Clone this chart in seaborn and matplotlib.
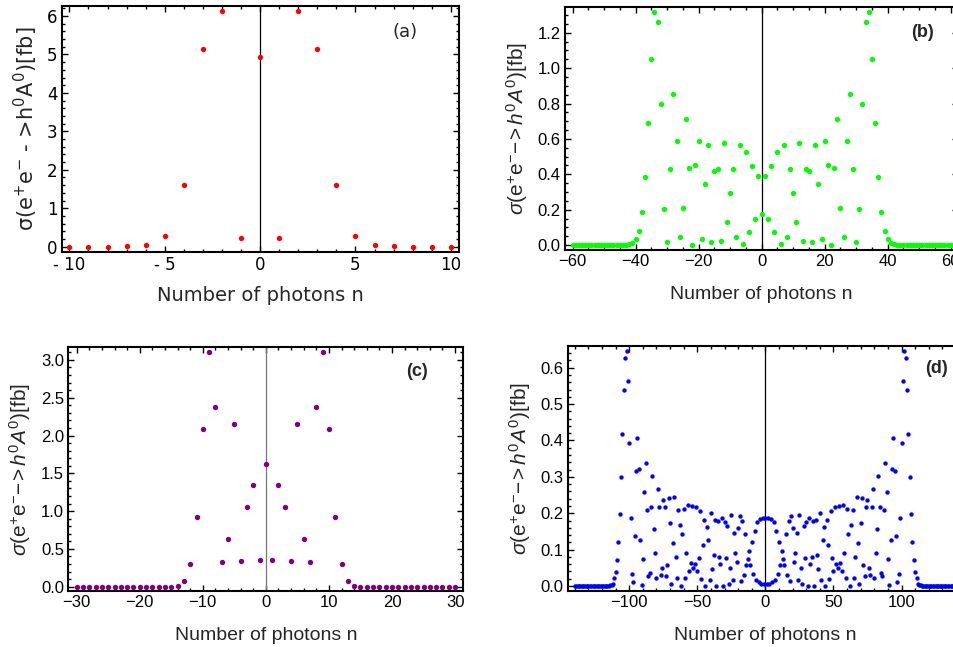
import numpy as np
import pandas as pd
import seaborn as sns
import matplotlib
matplotlib.use("Agg")
import matplotlib.pyplot as plt
from matplotlib.ticker import MultipleLocator, FuncFormatter, FormatStrFormatter

# ---- data (values for n >= 0, the curves are symmetric in n) ----
sigma_a = [4.93, 0.22, 6.13, 5.13, 1.60, 0.28, 0.035, 0.005, 0.0, 0.0, 0.0]

sigma_b = [0.175, 0.390, 0.147, 0.444, 0.075, 0.527, 0.004, 0.563, 0.045, 0.429,
           0.294, 0.128, 0.574, 0.023, 0.429, 0.420, 0.015, 0.567, 0.343, 0.032,
           0.588, 0.450, 0.000, 0.437, 0.714, 0.207, 0.047, 0.586, 0.851, 0.429,
           0.017, 0.201, 0.795, 1.260, 1.316, 1.053, 0.687, 0.382, 0.185, 0.081,
           0.032, 0.013, 0.006, 0.003, 0.001, 0.0, 0.0, 0.0, 0.0, 0.0,
           0.0, 0.0, 0.0, 0.0, 0.0, 0.0, 0.0, 0.0, 0.0, 0.0, 0.0]

sigma_c = [1.62, 0.35, 1.35, 1.05, 0.345, 2.15, 0.635, 0.32, 2.375, 3.10,
           2.08, 0.917, 0.296, 0.079, 0.015, 0.002, 0.0, 0.0, 0.0, 0.0,
           0.0, 0.0, 0.0, 0.0, 0.0, 0.0, 0.0, 0.0, 0.0, 0.0, 0.0]

sigma_d = [0.188, 0.005, 0.187, 0.006, 0.183, 0.010, 0.175, 0.018, 0.152, 0.033,
           0.120, 0.057, 0.097, 0.073, 0.058, 0.142, 0.030, 0.179, 0.013, 0.193,
           0.160, 0.067, 0.090, 0.145, 0.018, 0.195, 0.050, 0.005, 0.165, 0.078,
           0.176, 0.001, 0.186, 0.060, 0.080, 0.179, 0.001, 0.181, 0.085, 0.046,
           0.202, 0.016, 0.126, 0.163, 0.000, 0.181, 0.113, 0.019, 0.207, 0.076,
           0.041, 0.216, 0.060, 0.049, 0.221, 0.064, 0.042, 0.223, 0.092, 0.021,
           0.212, 0.142, 0.001, 0.168, 0.209, 0.021, 0.081, 0.244, 0.117, 0.005,
           0.172, 0.241, 0.058, 0.027, 0.216, 0.236, 0.049, 0.029, 0.218, 0.268,
           0.021, 0.092, 0.156, 0.302, 0.218, 0.037, 0.027, 0.209, 0.339, 0.259,
           0.074, 0.003, 0.126, 0.321, 0.406, 0.317, 0.137, 0.012, 0.032, 0.186,
           0.392, 0.564, 0.646, 0.627, 0.538, 0.418, 0.299, 0.197, 0.122, 0.071,
           0.039, 0.021, 0.007, 0.003, 0.002, 0.001, 0.0, 0.0, 0.0, 0.0,
           0.0, 0.0, 0.0, 0.0, 0.0, 0.0, 0.0, 0.0, 0.0, 0.0,
           0.0, 0.0, 0.0, 0.0, 0.0, 0.0, 0.0, 0.0, 0.0, 0.0, 0.0]


def mirror(half):
    half = np.asarray(half)
    return np.concatenate([half[:0:-1], half])


sns.set_style("ticks")
plt.rcParams['font.family'] = ['Liberation Sans', 'DejaVu Sans']
plt.rcParams['mathtext.fontset'] = 'custom'
plt.rcParams['mathtext.rm'] = 'Liberation Sans'
plt.rcParams['mathtext.it'] = 'Liberation Sans:italic'
plt.rcParams['mathtext.bf'] = 'Liberation Sans:bold'

fig = plt.figure(figsize=(9.54, 6.47), dpi=100)

label_ital = r'$\mathit{\sigma}\mathrm{(e^{+}e^{-}\!-\!\!>}\mathit{h}^{0}\mathit{A}^{0}\mathrm{)[fb]}$'
label_a = 'σ(e$^{+}$e$^{-}$ - >h$^{0}$A$^{0}$)[fb]'

panels = [
    dict(rect=[0.0647, 0.6105, 0.4165, 0.3807], data=sigma_a, color='#ff0000', s=15,
         xlim=(-10.4, 10.43), ylim=(-0.14, 6.27), xt=(5, 1), yt=(1, 0.2), yfmt='%d',
         tag='(a)', bold=False, tagpos=(0.864, 0.893), ylab=label_a, ylx=-0.055, zc='black',
         xlx=-0.138, labsize=14, font='DejaVu Sans', ticksize=12),
    dict(rect=[0.5922, 0.6136, 0.4123, 0.3760], data=sigma_b, color='#00ff00', s=15,
         xlim=(-62.4, 62.4), ylim=(-0.028, 1.347), xt=(20, 5), yt=(0.2, 0.05), yfmt='%.1f',
         tag='(b)', bold=True, tagpos=(0.908, 0.896), ylab=label_ital, ylx=-0.089, zc='black',
         xlx=-0.148, labsize=14, font='Liberation Sans', ticksize=12),
    dict(rect=[0.0716, 0.0866, 0.4140, 0.3767], data=sigma_c, color='#800080', s=15,
         xlim=(-31.33, 31.3), ylim=(-0.057, 3.168), xt=(10, 2), yt=(0.5, 0.1), yfmt='%.1f',
         tag='(c)', bold=True, tagpos=(0.883, 0.899), ylab=label_ital, ylx=-0.089, zc='#777777',
         xlx=-0.148, labsize=14, font='Liberation Sans', ticksize=12),
    dict(rect=[0.5951, 0.0870, 0.4144, 0.3782], data=sigma_d, color='#0000ff', s=10,
         xlim=(-145.2, 145.2), ylim=(-0.0128, 0.6595), xt=(50, 10), yt=(0.1, 0.02), yfmt='%.1f',
         tag='(d)', bold=True, tagpos=(0.934, 0.910), ylab=label_ital, ylx=-0.088, zc='black',
         xlx=-0.148, labsize=14, font='Liberation Sans', ticksize=12),
]

for i, p in enumerate(panels):
    ax = fig.add_axes(p['rect'])
    y = mirror(p['data'])
    half = len(p['data']) - 1
    n = np.arange(-half, half + 1)
    df = pd.DataFrame({'n': n, 'sigma': y})
    ax.axvline(0, color=p['zc'], lw=0.9, zorder=1)
    sns.scatterplot(data=df, x='n', y='sigma', ax=ax, color=p['color'], s=p['s'],
                    linewidth=0, legend=False, zorder=3, clip_on=False)
    ax.set_xlim(p['xlim'])
    ax.set_ylim(p['ylim'])
    ax.xaxis.set_major_locator(MultipleLocator(p['xt'][0]))
    ax.xaxis.set_minor_locator(MultipleLocator(p['xt'][1]))
    ax.yaxis.set_major_locator(MultipleLocator(p['yt'][0]))
    ax.yaxis.set_minor_locator(MultipleLocator(p['yt'][1]))
    ax.yaxis.set_major_formatter(FormatStrFormatter(p['yfmt']))
    if i == 0:
        ax.xaxis.set_major_formatter(FuncFormatter(
            lambda v, pos: f"- {abs(int(round(v)))}" if v < 0 else f"{int(round(v))}"))
    else:
        ax.xaxis.set_major_formatter(FuncFormatter(
            lambda v, pos: f"\u2212{abs(int(round(v)))}" if v < 0 else f"{int(round(v))}"))
    ax.tick_params(labelsize=p['ticksize'], labelfontfamily=p['font'])
    ax.tick_params(which='both', direction='in', top=True, right=True,
                   colors='black', width=1.0, pad=3)
    ax.tick_params(which='major', length=4.5)
    ax.tick_params(which='minor', length=2.3)
    for sp in ax.spines.values():
        sp.set_linewidth(1.5)
        sp.set_color('black')
    ax.set_xlabel('Number of photons n', fontsize=p['labsize'], family=p['font'])
    if i == 0:
        ax.set_ylabel(p['ylab'], fontsize=15, family='DejaVu Sans',
                      math_fontfamily='dejavusans')
    else:
        ax.set_ylabel(p['ylab'], fontsize=15)
    ax.xaxis.set_label_coords(0.5, p['xlx'])
    ax.yaxis.set_label_coords(p['ylx'], 0.5)
    ax.text(p['tagpos'][0], p['tagpos'][1], p['tag'], transform=ax.transAxes,
            ha='center', va='center', fontsize=13, family=p['font'],
            fontweight='bold' if p['bold'] else 'normal')

fig.savefig('out.png', dpi=100)
